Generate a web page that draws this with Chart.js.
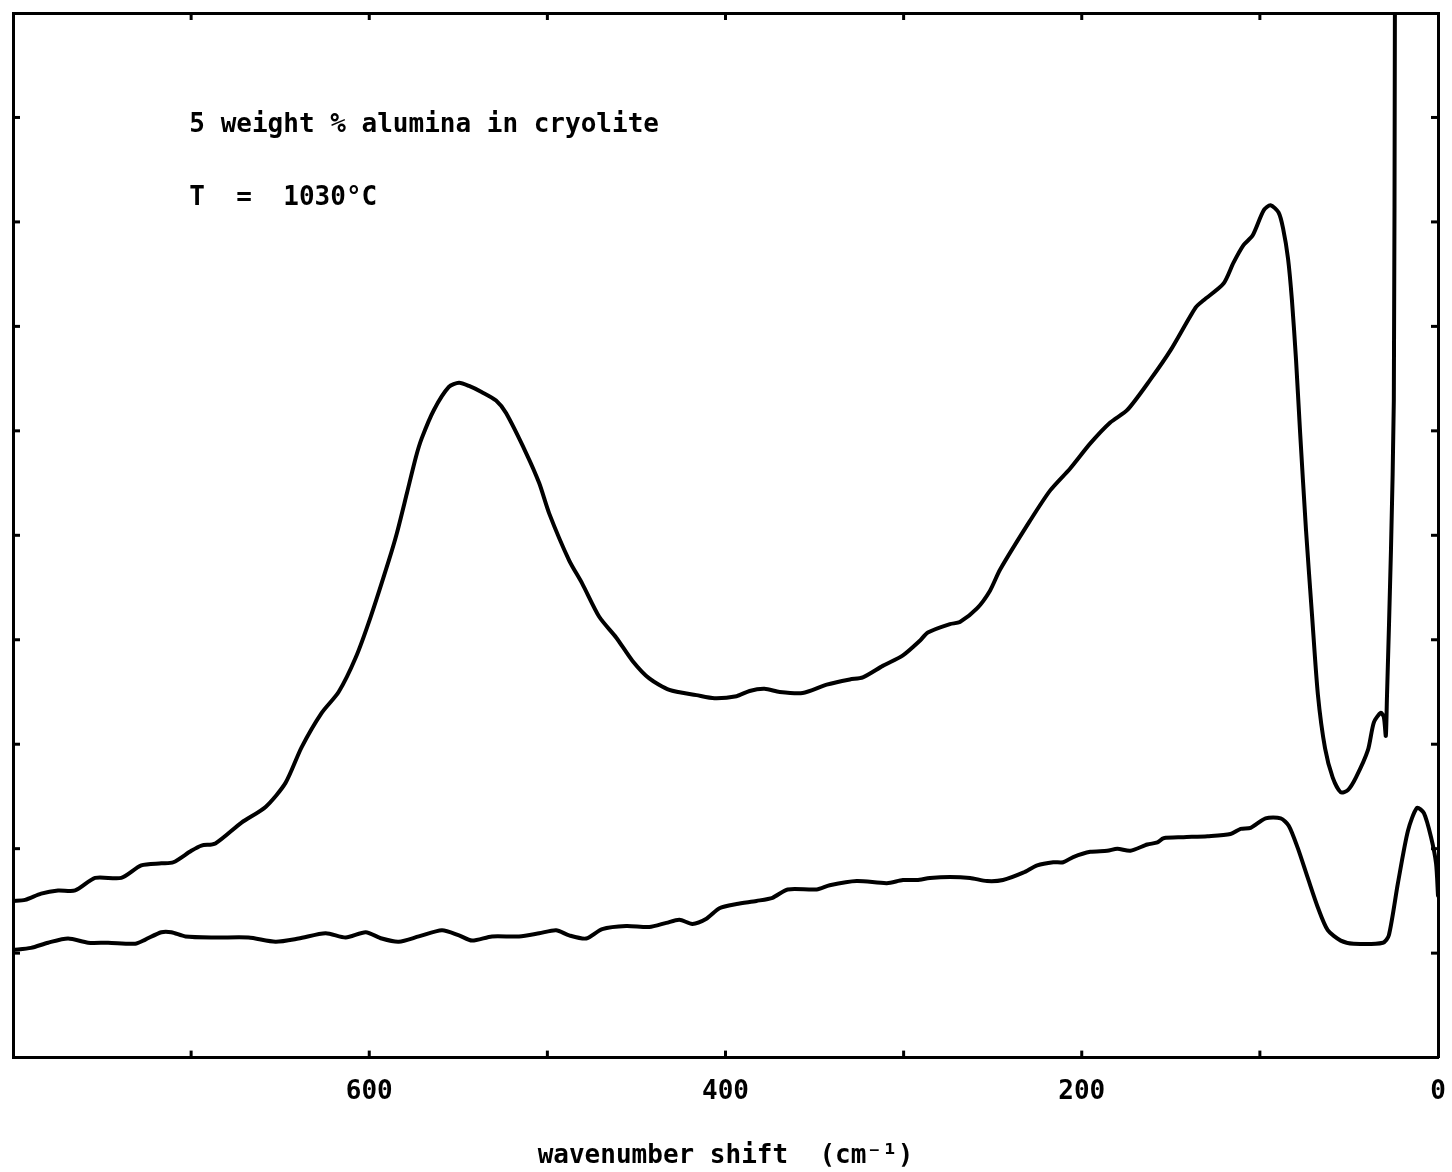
<!DOCTYPE html>
<html><head><meta charset="utf-8">
<script src="https://cdn.jsdelivr.net/npm/chart.js@4/dist/chart.umd.min.js"></script>
<style>html,body{margin:0;padding:0;background:#fff;}canvas{display:block;}</style>
</head><body>
<canvas id="c" width="1452" height="1172"></canvas>
<script>
// ---- data (wavenumber shift in cm-1, intensity in arbitrary units) ----
const upperX = [800,793.2,784.2,774.7,765.1,753.9,739.2,728.0,716.7,710.0,699.9,694.2,686.4,671.7,658.2,647.0,638.0,626.7,617.2,607.6,599.2,589.0,584.5,578.9,573.8,570.5,563.7,555.3,549.6,544.0,536.7,528.8,523.2,512.0,504.6,499.0,487.8,480.5,470.9,461.3,452.3,442.8,431.5,416.3,406.2,393.8,386.5,378.1,369.6,356.7,343.2,330.2,322.9,311.7,300.4,290.9,286.4,274.0,268.4,258.8,251.5,245.9,229.0,217.7,206.5,195.2,184.0,174.4,161.5,150.2,136.1,131.6,120.4,114.8,109.1,104.1,97.9,94.0,89.5,87.0,84.2,82.0,79.7,77.5,74.1,70.7,67.4,63.4,59.1,54.6,50.6,46.1,39.4,36.0,32.1,30.4,29.3,28.7,26.4,24.8,24.2,23.9];
const upperY = [1.50,1.51,1.57,1.60,1.60,1.72,1.72,1.84,1.86,1.87,1.98,2.03,2.05,2.25,2.40,2.63,2.97,3.30,3.50,3.83,4.22,4.76,5.02,5.40,5.75,5.93,6.20,6.42,6.46,6.43,6.37,6.29,6.17,5.79,5.50,5.21,4.76,4.54,4.22,4.02,3.80,3.63,3.52,3.47,3.44,3.46,3.51,3.53,3.50,3.49,3.57,3.62,3.64,3.75,3.85,3.99,4.07,4.15,4.17,4.30,4.47,4.67,5.14,5.43,5.64,5.88,6.08,6.20,6.49,6.77,7.18,7.25,7.41,7.61,7.78,7.87,8.11,8.16,8.09,7.94,7.65,7.25,6.68,6.01,5.05,4.23,3.47,2.96,2.68,2.54,2.56,2.68,2.94,3.21,3.30,3.26,3.08,3.42,4.86,6.29,10.0,11.0];
const lowerX = [800,789.9,780.3,769.1,757.8,746.6,731.4,725.7,716.7,711.1,703.2,686.4,667.8,652.6,639.7,624.5,613.2,602.0,593.0,583.4,572.2,559.2,549.6,542.3,531.1,515.9,504.6,495.1,487.8,478.2,469.2,455.7,442.8,433.2,425.9,418.6,410.7,403.4,393.8,382.6,373.6,365.1,348.8,341.5,326.3,309.4,300.4,292.5,285.2,274.0,262.7,253.2,244.2,232.9,225.0,216.0,210.4,204.8,195.2,185.7,180.0,172.7,163.2,157.5,154.1,142.9,129.4,116.5,110.8,105.2,96.8,88.3,83.8,78.8,73.1,67.5,61.9,54.6,47.3,30.9,27.6,22.5,16.9,11.8,7.9,3.9,1.1,0];
const lowerY = [1.03,1.05,1.10,1.14,1.10,1.10,1.09,1.13,1.20,1.20,1.16,1.15,1.15,1.11,1.14,1.19,1.15,1.20,1.14,1.11,1.16,1.22,1.17,1.12,1.16,1.16,1.19,1.22,1.17,1.14,1.23,1.26,1.25,1.29,1.32,1.28,1.33,1.43,1.47,1.50,1.53,1.61,1.61,1.65,1.69,1.67,1.70,1.70,1.72,1.73,1.72,1.69,1.70,1.77,1.84,1.87,1.87,1.92,1.97,1.98,2.00,1.98,2.04,2.06,2.10,2.11,2.12,2.14,2.19,2.20,2.29,2.29,2.22,2.01,1.72,1.44,1.22,1.12,1.09,1.10,1.17,1.67,2.17,2.39,2.34,2.11,1.86,1.55];
const xTickLabels = [600, 400, 200, 0];
const annotationLines = ["5 weight % alumina in cryolite", "T  =  1030\u00B0C"];
const xAxisTitle = "wavenumber shift  (cm\u207B\u00B9)";

const FONT = "'DejaVu Sans Mono', 'Liberation Mono', monospace";
const toPts = (xs, ys) => xs.map((x, i) => ({x: x, y: ys[i]}));

const inwardTicks = {
  id: 'inwardTicks',
  afterDatasetsDraw(chart) {
    const ctx = chart.ctx, a = chart.chartArea, L = 7;
    ctx.save();
    ctx.strokeStyle = '#000';
    ctx.lineWidth = 3;
    ['x', 'xTop', 'y', 'yRight'].forEach(id => {
      const s = chart.scales[id];
      s.ticks.forEach(t => {
        if (t.value <= s.min || t.value >= s.max) return;
        const p = s.getPixelForValue(t.value);
        ctx.beginPath();
        if (id === 'x') { ctx.moveTo(p, a.bottom); ctx.lineTo(p, a.bottom - L); }
        else if (id === 'xTop') { ctx.moveTo(p, a.top); ctx.lineTo(p, a.top + L); }
        else if (id === 'y') { ctx.moveTo(a.left, p); ctx.lineTo(a.left + L, p); }
        else { ctx.moveTo(a.right, p); ctx.lineTo(a.right - L, p); }
        ctx.stroke();
      });
    });
    ctx.restore();
  }
};

const annotations = {
  id: 'annotations',
  afterDraw(chart, args, opts) {
    const ctx = chart.ctx, sx = chart.scales.x, sy = chart.scales.y;
    ctx.save();
    ctx.fillStyle = '#000';
    ctx.font = 'bold 26px ' + FONT;
    ctx.textBaseline = 'alphabetic';
    ctx.textAlign = 'left';
    opts.items.forEach(it => {
      ctx.fillText(it.text, sx.getPixelForValue(it.x), sy.getPixelForValue(it.y));
    });
    ctx.restore();
  }
};

const borderOpts = {display: true, color: '#000', width: 3};
const gridOpts = {display: true, drawOnChartArea: false, drawTicks: false};

new Chart(document.getElementById('c'), {
  type: 'line',
  data: {
    datasets: [
      {data: toPts(upperX, upperY), borderColor: '#000', borderWidth: 4, pointRadius: 0, tension: 0.25, fill: false, borderJoinStyle: 'round', borderCapStyle: 'round'},
      {data: toPts(lowerX, lowerY), borderColor: '#000', borderWidth: 4, pointRadius: 0, tension: 0.25, fill: false, borderJoinStyle: 'round', borderCapStyle: 'round'}
    ]
  },
  options: {
    responsive: false,
    animation: false,
    events: [],
    layout: {padding: {left: 13, top: 13, right: 14, bottom: 0}},
    plugins: {
      legend: {display: false},
      tooltip: {enabled: false},
      annotations: {items: [
        {text: annotationLines[0], x: 701, y: 8.86},
        {text: annotationLines[1], x: 701, y: 8.16}
      ]}
    },
    scales: {
      x: {
        type: 'linear', position: 'bottom', min: 0, max: 800, reverse: true,
        grid: {display: true, drawOnChartArea: false, drawTicks: true, tickLength: 19, tickColor: 'rgba(0,0,0,0)'},
        border: borderOpts,
        ticks: {stepSize: 100, autoSkip: false, maxRotation: 0, padding: 0, color: '#000',
          font: {family: FONT, size: 26, weight: 'bold'},
          callback: v => xTickLabels.includes(v) ? String(v) : ''},
        title: {display: true, text: xAxisTitle, color: '#000',
          font: {family: FONT, size: 26, weight: 'bold'}, padding: {top: 33, bottom: 0}}
      },
      xTop: {
        type: 'linear', position: 'top', min: 0, max: 800, reverse: true,
        grid: gridOpts, border: borderOpts, ticks: {display: false, stepSize: 100}
      },
      y: {
        type: 'linear', position: 'left', min: 0, max: 10,
        grid: gridOpts, border: borderOpts, ticks: {display: false, stepSize: 1}
      },
      yRight: {
        type: 'linear', position: 'right', min: 0, max: 10,
        grid: gridOpts, border: borderOpts, ticks: {display: false, stepSize: 1}
      }
    }
  },
  plugins: [inwardTicks, annotations]
});
</script>
</body></html>
